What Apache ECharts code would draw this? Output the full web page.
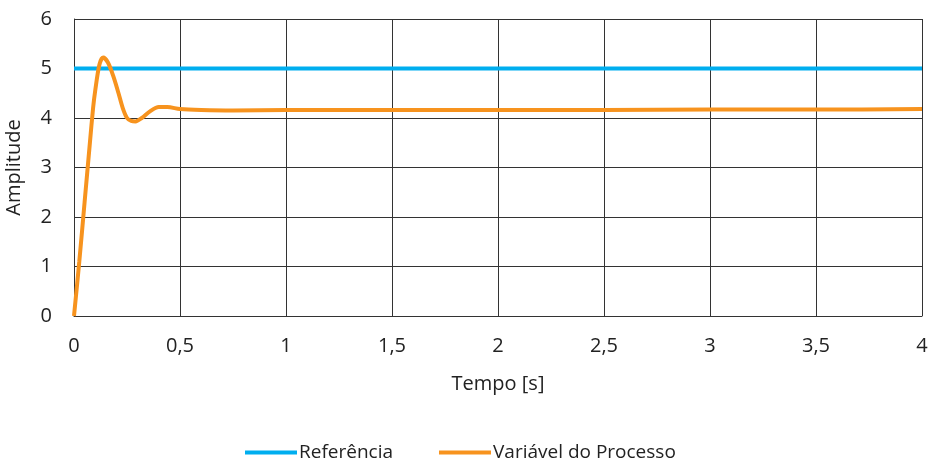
<!DOCTYPE html>
<html><head><meta charset="utf-8">
<script src="https://cdn.jsdelivr.net/npm/echarts@6/dist/echarts.min.js"></script>
<style>html,body{margin:0;padding:0;background:#fff}#c{width:931px;height:467px}</style>
</head><body><div id="c"></div>
<script>
const referenciaT = [0, 4];
const referenciaV = [5, 5];
const processoT = [0, 0.025, 0.05, 0.075, 0.09, 0.1, 0.12, 0.138, 0.16, 0.185, 0.21, 0.23, 0.25, 0.27, 0.29, 0.32, 0.36, 0.4, 0.44, 0.5, 0.6, 0.75, 1, 1.5, 2, 2.5, 3, 3.5, 4];
const processoV = [0, 1.1, 2.3, 3.5, 4.2, 4.55, 5.08, 5.22, 5.12, 4.85, 4.5, 4.2, 4.0, 3.94, 3.93, 4.0, 4.14, 4.22, 4.22, 4.18, 4.16, 4.15, 4.16, 4.16, 4.16, 4.16, 4.17, 4.17, 4.18];
const seriesNames = ['Referência', 'Variável do Processo'];

const ff = '"Open Sans", "Liberation Sans", sans-serif';
const chart = echarts.init(document.getElementById('c'));
chart.setOption({
  animation: false,
  textStyle: {fontFamily: ff},
  grid: {left: 74, right: 9, top: 19, bottom: 151, containLabel: false, outerBoundsMode: 'none'},
  legend: {
    bottom: 0, left: 240, itemWidth: 52, itemHeight: 4, itemGap: 46,
    icon: 'rect',
    textStyle: {fontFamily: ff, fontSize: 19, color: '#222', padding: [0, 0, 0, -3]},
    data: seriesNames
  },
  xAxis: {
    type: 'value', min: 0, max: 4, interval: 0.5,
    name: 'Tempo [s]', nameLocation: 'middle', nameGap: 58,
    nameTextStyle: {fontSize: 20, color: '#222', fontFamily: ff},
    axisLine: {lineStyle: {color: '#333'}},
    axisTick: {show: false},
    axisLabel: {fontSize: 20, color: '#222', margin: 20, formatter: v => String(v).replace('.', ',')},
    splitLine: {show: true, lineStyle: {color: '#333', width: 1}}
  },
  yAxis: {
    type: 'value', min: 0, max: 6, interval: 1,
    name: 'Amplitude', nameLocation: 'middle', nameGap: 50,
    nameTextStyle: {fontSize: 20, color: '#222', fontFamily: ff},
    axisLine: {show: true, lineStyle: {color: '#333'}},
    axisTick: {show: false},
    axisLabel: {fontSize: 20, color: '#222', margin: 22},
    splitLine: {show: true, lineStyle: {color: '#333', width: 1}}
  },
  series: [
    {name: seriesNames[0], type: 'line', symbol: 'none', color: '#00AEEF',
     lineStyle: {width: 4}, data: referenciaT.map((t, i) => [t, referenciaV[i]])},
    {name: seriesNames[1], type: 'line', symbol: 'none', color: '#F7931E', smooth: 0.3,
     lineStyle: {width: 4}, data: processoT.map((t, i) => [t, processoV[i]])}
  ]
});
</script></body></html>
